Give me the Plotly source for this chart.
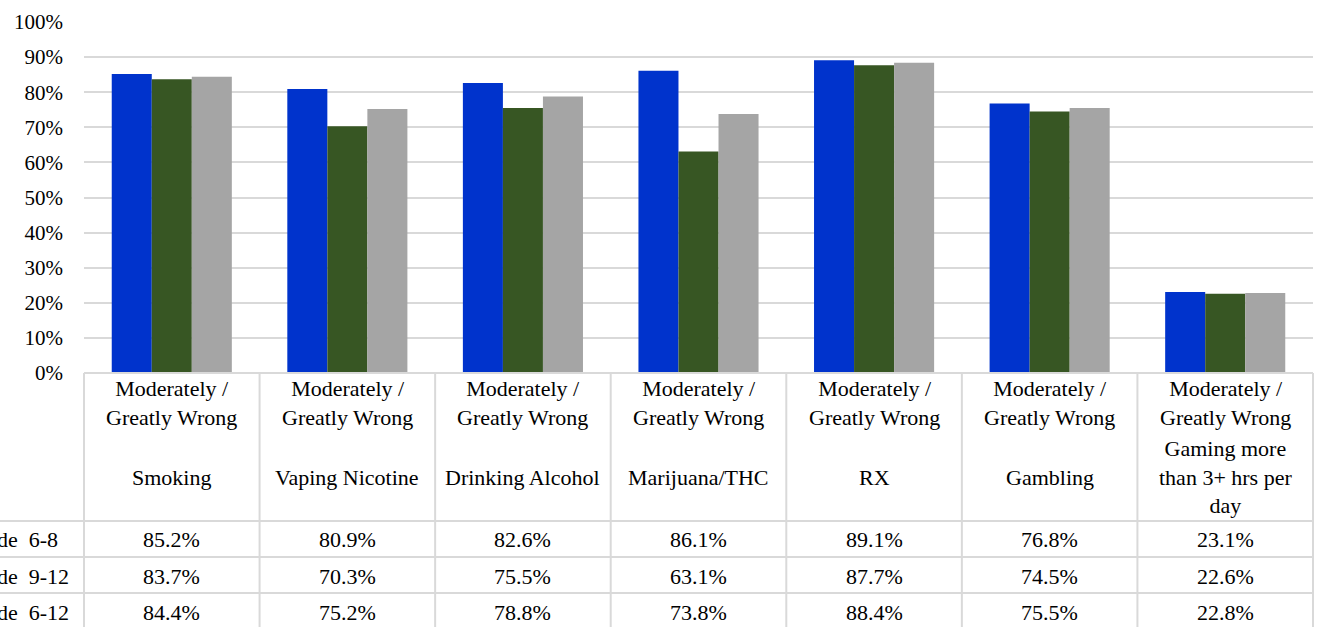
import plotly.graph_objects as go

CATEGORIES = [
    "Smoking",
    "Vaping Nicotine",
    "Drinking Alcohol",
    "Marijuana/THC",
    "RX",
    "Gambling",
    "Gaming more<br>than 3+ hrs per<br>day",
]
MEASURE = "Moderately /<br>Greatly Wrong"
SERIES = ["Grade\u00a0 6-8", "Grade\u00a0 9-12", "Grade\u00a0 6-12"]
GRADE_6_8 = [85.2, 80.9, 82.6, 86.1, 89.1, 76.8, 23.1]
GRADE_9_12 = [83.7, 70.3, 75.5, 63.1, 87.7, 74.5, 22.6]
GRADE_6_12 = [84.4, 75.2, 78.8, 73.8, 88.4, 75.5, 22.8]
VALUES = [GRADE_6_8, GRADE_9_12, GRADE_6_12]
COLORS = ["#0033CC", "#375623", "#A5A5A5"]

TEXT_FONT = {"family": "Liberation Serif", "size": 22, "color": "#000000"}
TICK_FONT = {"family": "Liberation Serif", "size": 21, "color": "#000000"}
GRID = "#D9D9D9"
W, H = 1318, 627
L, R, T, B = 84, 5, 22, 254


def py(px):
    """Pixel row -> paper y."""
    return (H - B - px) / (H - T - B)


def px_x(px):
    return (px - L) / (W - L - R)


fig = go.Figure()
keys = [f"c{i}" for i in range(len(CATEGORIES))]
for name, vals, color in zip(SERIES, VALUES, COLORS):
    fig.add_trace(
        go.Bar(
            x=keys,
            y=[v / 100 for v in vals],
            name=name,
            marker={"color": color, "line": {"width": 0}},
            hoverinfo="skip",
            showlegend=False,
        )
    )

n = len(CATEGORIES)
annotations = []
shapes = []
row_y = [539, 576, 612]
cell = dict(showarrow=False, xref="paper", yref="paper", xanchor="center",
            yanchor="middle", font=TEXT_FONT)
for i, cat in enumerate(CATEGORIES):
    cx = (i + 0.5) / n
    annotations.append(dict(cell, x=cx, y=py(403), text=MEASURE))
    annotations.append(dict(cell, x=cx, y=py(477), text=cat))
    for r, vals in enumerate(VALUES):
        annotations.append(dict(cell, x=cx, y=py(row_y[r]), text=f"{vals[i]:.1f}%"))

# row labels are partly cut off at the left edge, as in the source image
for r, name in enumerate(SERIES):
    annotations.append(dict(cell, x=px_x(-38), y=py(row_y[r]), text=name, xanchor="left"))

line = {"color": GRID, "width": 2}
for i in range(n + 1):
    shapes.append(dict(type="line", xref="paper", yref="paper", x0=i / n, x1=i / n,
                       y0=0, y1=py(640), line=line))
for yy in [521, 557, 593]:
    shapes.append(dict(type="line", xref="paper", yref="paper", x0=px_x(-5), x1=1,
                       y0=py(yy), y1=py(yy), line=line))
shapes.append(dict(type="line", xref="paper", yref="paper", x0=0, x1=1, y0=0, y1=0, line=line))

fig.update_layout(
    width=W,
    height=H,
    margin={"l": L, "r": R, "t": T, "b": B},
    paper_bgcolor="white",
    plot_bgcolor="white",
    font=TEXT_FONT,
    barmode="group",
    bargap=0.316,
    bargroupgap=0,
    showlegend=False,
    annotations=annotations,
    shapes=shapes,
)
fig.update_xaxes(showticklabels=False, showgrid=False, zeroline=False, showline=False)
fig.update_yaxes(
    range=[0, 1],
    dtick=0.1,
    tickformat=".0%",
    tickfont=TICK_FONT,
    showgrid=True,
    gridcolor=GRID,
    gridwidth=2,
    zeroline=False,
    showline=False,
    ticklabelstandoff=20,
)

fig.write_html(
    "out.html",
    config={"displayModeBar": False},
    post_script="document.body.style.margin = '0';",
)
